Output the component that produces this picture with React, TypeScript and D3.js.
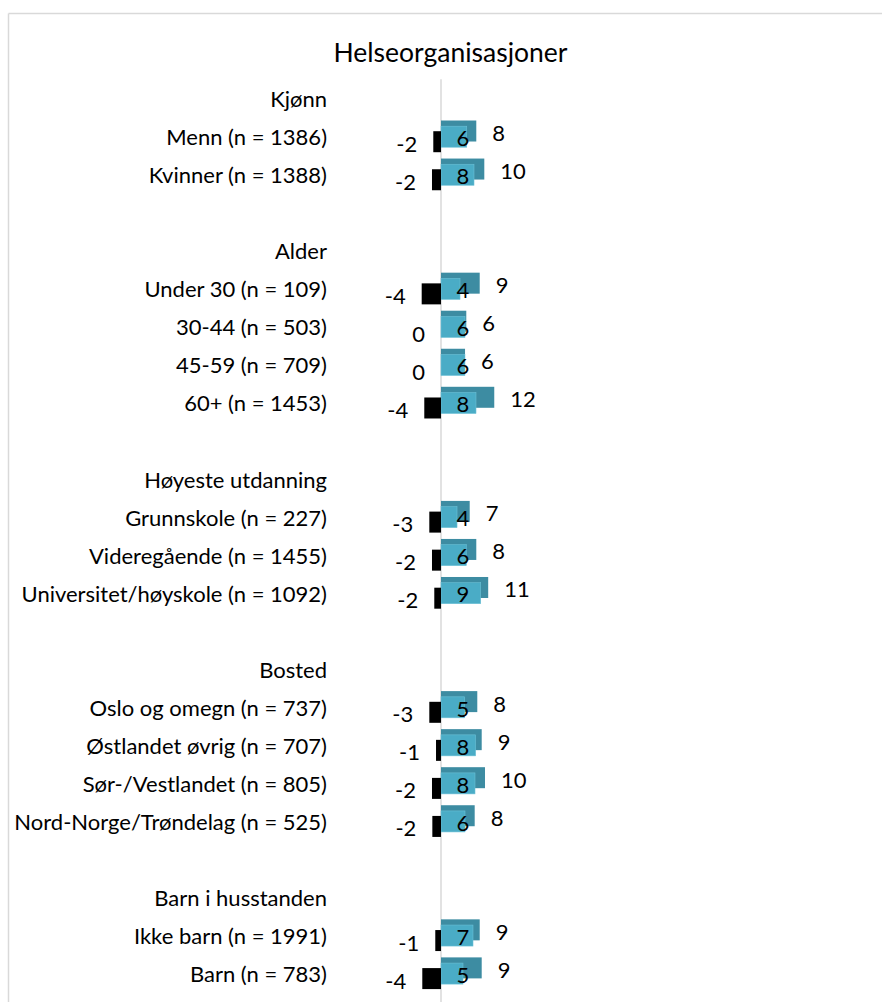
import React from "react";
import * as d3 from "d3";

const title = "Helseorganisasjoner";

const rowLabels: string[] = [
  "Kjønn",
  "Menn (n = 1386)",
  "Kvinner (n = 1388)",
  "",
  "Alder",
  "Under 30 (n = 109)",
  "30-44 (n = 503)",
  "45-59 (n = 709)",
  "60+ (n = 1453)",
  "",
  "Høyeste utdanning",
  "Grunnskole (n = 227)",
  "Videregående (n = 1455)",
  "Universitet/høyskole (n = 1092)",
  "",
  "Bosted",
  "Oslo og omegn (n = 737)",
  "Østlandet øvrig (n = 707)",
  "Sør-/Vestlandet (n = 805)",
  "Nord-Norge/Trøndelag (n = 525)",
  "",
  "Barn i husstanden",
  "Ikke barn (n = 1991)",
  "Barn (n = 783)",
];

// null = header or spacer row
const darkValues: (number | null)[] = [
  null, 8.15, 10.0, null,
  null, 8.94, 5.84, 5.55, 12.3, null,
  null, 6.63, 8.15, 10.9, null,
  null, 8.38, 9.4, 10.16, 7.78, null,
  null, 8.94, 9.4,
];

const lightValues: (number | null)[] = [
  null, 5.94, 7.62, null,
  null, 4.39, 5.54, 5.52, 8.08, null,
  null, 3.7, 5.84, 9.17, null,
  null, 5.47, 8.0, 7.85, 5.54, null,
  null, 7.39, 5.08,
];

const blackValues: (number | null)[] = [
  null, -1.78, -2.08, null,
  null, -4.46, 0, 0, -3.86, null,
  null, -2.7, -2.08, -1.55, null,
  null, -2.7, -1.15, -2.08, -2.0, null,
  null, -1.32, -4.32,
];

const W = 882;
const H = 1002;
const FONT = "Lato, 'Open Sans', sans-serif";

const fmt = (v: number) => String(Math.round(v) + 0);

export default function App() {
  const y = d3
    .scaleBand<number>()
    .domain(rowLabels.map((_, i) => i))
    .range([79.3, 79.3 + 24 * 38.04])
    .paddingInner(0)
    .paddingOuter(0);

  const x = d3.scaleLinear().domain([-5, 15]).range([441 - 5 * 4.33, 441 + 15 * 4.33]);
  const x0 = x(0);
  const barH = 21;
  const center = (i: number) => (y(i) as number) + y.bandwidth() / 2;
  const fs = 22;

  return (
    <svg
      width={W}
      height={H}
      style={{ position: "absolute", left: 0, top: 0, background: "#fff" }}
      fontFamily={FONT}
    >
      <rect x={0} y={0} width={W} height={H} fill="#fff" />
      {/* frame */}
      <line x1={8.5} x2={W} y1={13.5} y2={13.5} stroke="#d9d9d9" strokeWidth={1.5} />
      <line x1={8.5} x2={8.5} y1={13.5} y2={H} stroke="#d9d9d9" strokeWidth={1.5} />

      <text x={450.5} y={61.5} textAnchor="middle" fontSize={26.5} fill="#000">
        {title}
      </text>

      {/* axis */}
      <line x1={x0} x2={x0} y1={79.3} y2={H} stroke="#d9d9d9" strokeWidth={1.5} />

      {rowLabels.map((lab, i) => (
        <text key={"l" + i} x={327} y={center(i) + 8.8} textAnchor="end" fontSize={fs} fill="#000">
          {lab}
        </text>
      ))}

      {darkValues.map((v, i) =>
        v == null ? null : (
          <rect
            key={"d" + i}
            x={x0}
            y={center(i) - 15.85}
            width={x(v) - x0}
            height={barH}
            fill="#3d8ca2"
          />
        )
      )}
      {lightValues.map((v, i) =>
        v == null ? null : (
          <rect
            key={"li" + i}
            x={x0}
            y={center(i) - 10.15}
            width={x(v) - x0}
            height={barH}
            fill="#4aacc6"
            stroke="#6cc0d6"
            strokeWidth={0.6}
          />
        )
      )}
      {blackValues.map((v, i) =>
        v == null ? null : (
          <rect
            key={"b" + i}
            x={x(v)}
            y={center(i) - 5.15}
            width={x0 - x(v)}
            height={barH}
            fill="#000"
          />
        )
      )}

      {darkValues.map((v, i) =>
        v == null ? null : (
          <text key={"dt" + i} x={x(v) + 16} y={center(i) + 4.6} textAnchor="start" fontSize={fs} fill="#000">
            {fmt(v)}
          </text>
        )
      )}
      {lightValues.map((v, i) =>
        v == null ? null : (
          <text key={"lt" + i} x={x0 + 22} y={center(i) + 9.6} textAnchor="middle" fontSize={fs} fill="#000">
            {fmt(v)}
          </text>
        )
      )}
      {blackValues.map((v, i) =>
        v == null ? null : (
          <text key={"bt" + i} x={x(v) - 16} y={center(i) + 15.4} textAnchor="end" fontSize={fs} fill="#000">
            {fmt(v)}
          </text>
        )
      )}
    </svg>
  );
}
